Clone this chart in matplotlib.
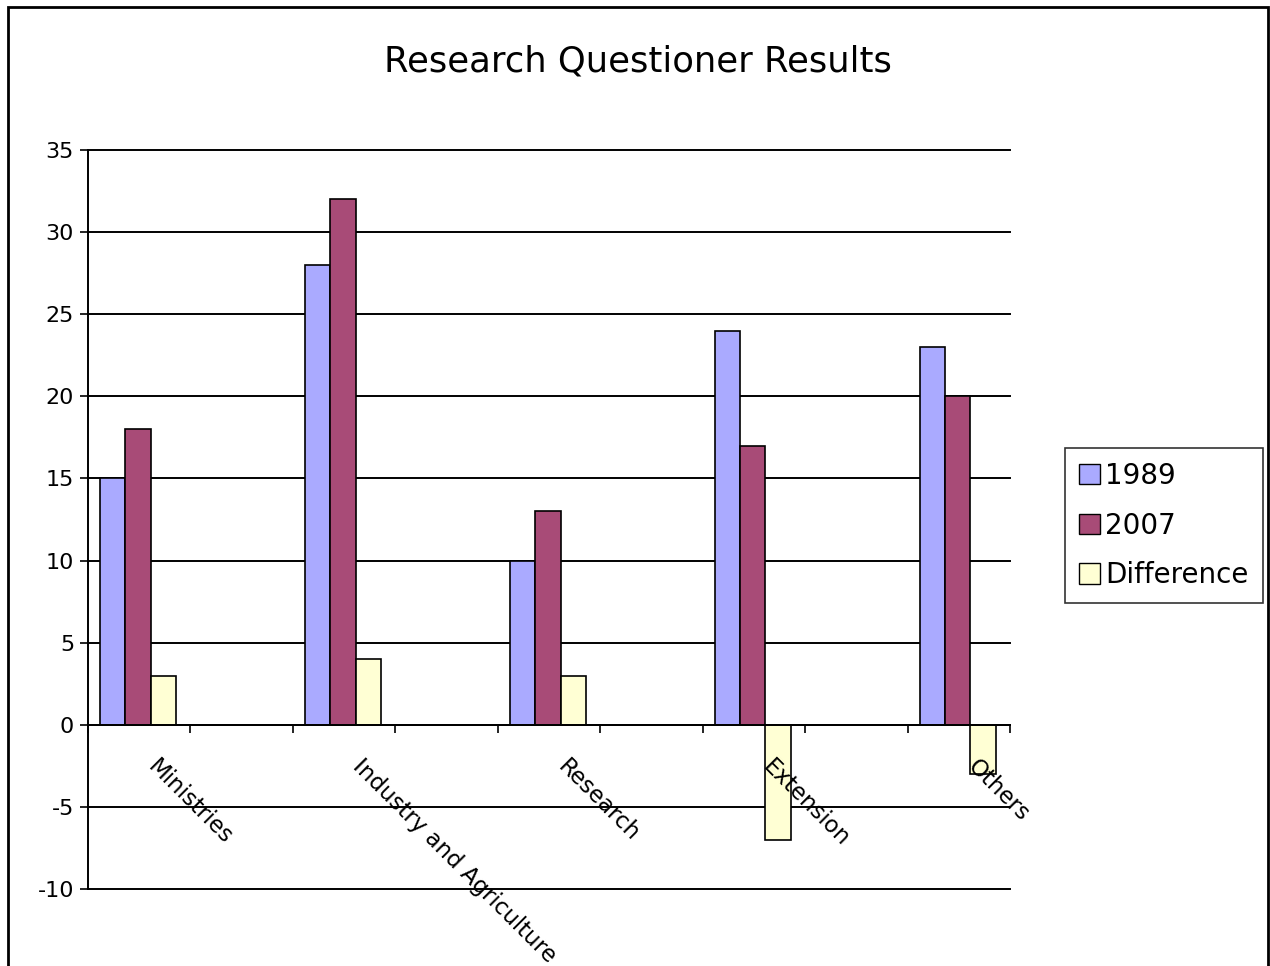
import numpy as np
import matplotlib.pyplot as plt
from matplotlib.patches import Rectangle, Patch

plt.rcParams["axes.unicode_minus"] = False

# ======================
# Data
# ======================

categories = ["Ministries", "Industry and Agriculture", "Research", "Extension", "Others"]
vals_1989 = [15, 28, 10, 24, 23]
vals_2007 = [18, 32, 13, 17, 20]
vals_diff = [3, 4, 3, -7, -3]

series_names = ["1989", "2007", "Difference"]
colors = ["#AAAAFF", "#A84B77", "#FFFFD4"]

# ======================
# Figure / axes
# ======================

W, H = 1270, 966
fig = plt.figure(figsize=(W / 100, H / 100), dpi=100)
fig.patch.set_facecolor("white")

ax = fig.add_axes([88 / W, 1 - 889 / H, 922 / W, 739 / H])

x = np.arange(len(categories))
bar_w = 0.124
start = x + 0.0585

for k, vals in enumerate([vals_1989, vals_2007, vals_diff]):
    ax.bar(
        start + k * bar_w,
        vals,
        width=bar_w,
        align="edge",
        color=colors[k],
        edgecolor="black",
        linewidth=1.2,
        zorder=3,
    )

ax.set_xlim(0, 4.5)
ax.set_ylim(-10, 35)

# y axis
ax.set_yticks(np.arange(-10, 36, 5))
ax.tick_params(axis="y", direction="out", length=6, width=1.2, pad=4, labelsize=16)
ax.yaxis.grid(True, color="black", linewidth=1.4)
for gl in ax.get_ygridlines():
    gl.set_clip_on(False)
ax.set_axisbelow(True)

# x axis at zero
ax.set_xticks(np.arange(0, 4.51, 0.5))
ax.set_xticklabels([])
ax.tick_params(axis="x", direction="out", length=6, width=1.2)
ax.spines["bottom"].set_position(("data", 0))
ax.spines["bottom"].set_linewidth(1.4)
ax.spines["bottom"].set_zorder(4)
ax.spines["left"].set_linewidth(1.4)
ax.spines["top"].set_visible(False)
ax.spines["right"].set_visible(False)

# category labels
for i, cat in enumerate(categories):
    ax.text(
        i + 0.35,
        -1.85,
        cat,
        rotation=-45,
        rotation_mode="anchor",
        ha="left",
        va="top",
        fontsize=16.5,
        zorder=5,
    )

# title
fig.text(638 / W, 1 - 62 / H, "Research Questioner Results",
         ha="center", va="center", fontsize=25.5)

# legend
handles = [Patch(facecolor=c, edgecolor="black", linewidth=1.0) for c in colors]
leg = fig.legend(
    handles,
    series_names,
    loc="upper left",
    bbox_to_anchor=(1065 / W, 1 - 448 / H),
    frameon=True,
    fancybox=False,
    edgecolor="black",
    fontsize=20,
    handlelength=0.75,
    handleheight=0.75,
    handletextpad=0.2,
    labelspacing=0.78,
    borderpad=0.5,
    borderaxespad=0,
)
leg.get_frame().set_linewidth(1.2)

# outer border
fig.add_artist(Rectangle((8 / W, -0.05), 1260 / W, 1 - 7 / H + 0.05,
                         transform=fig.transFigure, fill=False,
                         edgecolor="black", linewidth=2))

fig.savefig("out.png", dpi=100)
